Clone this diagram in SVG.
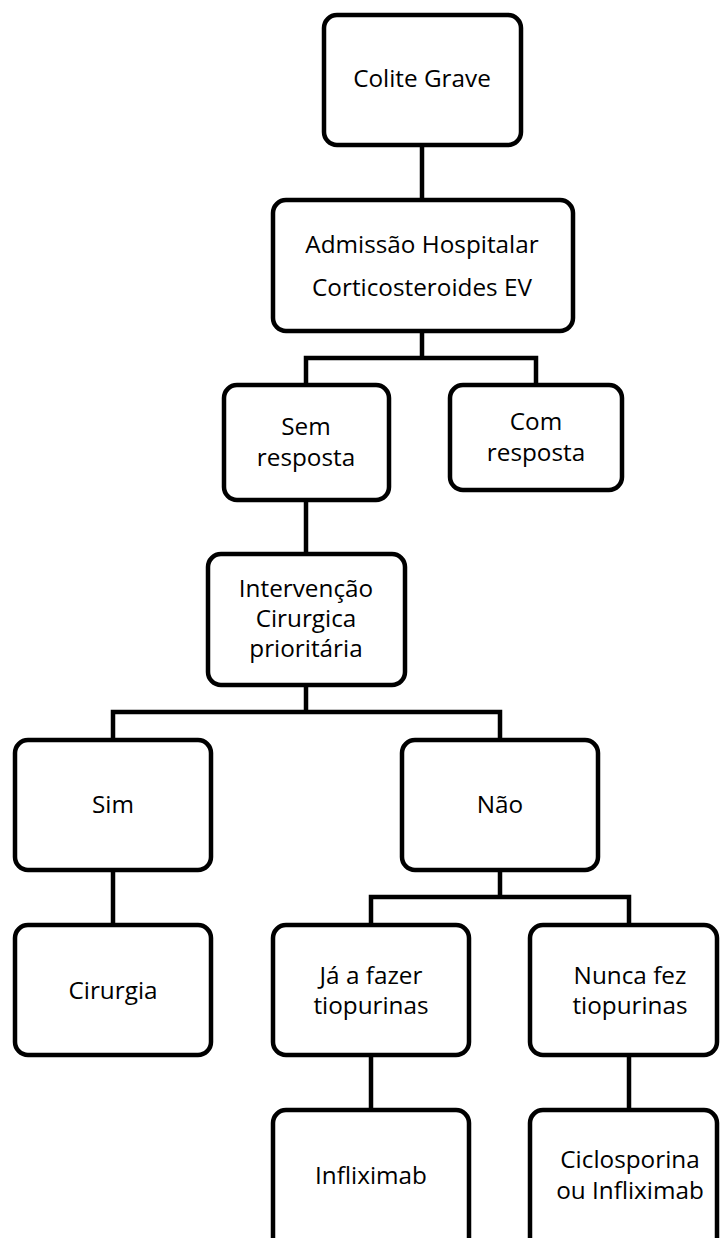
<svg xmlns="http://www.w3.org/2000/svg" width="720" height="1238" viewBox="0 0 720 1238">
<style>
.box{fill:#fff;stroke:#000;stroke-width:4.5}
.lbl{font-family:"Open Sans","Noto Sans",sans-serif;font-size:24.3px;fill:#000;text-anchor:middle}
.conn{fill:none;stroke:#000;stroke-width:4.5;stroke-linejoin:miter}
</style>
<rect width="720" height="1238" fill="#fff"/>
<g id="connectors">
<path class="conn" d="M422 145V200"/>
<path class="conn" d="M422 331V358M306 385V358H536V385"/>
<path class="conn" d="M306 500V554"/>
<path class="conn" d="M306 685V712M113 740V712H500V740"/>
<path class="conn" d="M113 870V925"/>
<path class="conn" d="M500 870V897M371 925V897H629V925"/>
<path class="conn" d="M371 1055V1110"/>
<path class="conn" d="M629 1055V1110"/>
</g>
<g id="n1"><rect class="box" x="324" y="15" width="197" height="130" rx="13"/><text class="lbl" x="422" y="87">Colite Grave</text></g>
<g id="n2"><rect class="box" x="273" y="200" width="300" height="131" rx="13"/><text class="lbl" x="422" y="253">Admissão Hospitalar</text><text class="lbl" x="422" y="296">Corticosteroides EV</text></g>
<g id="n3"><rect class="box" x="224" y="385" width="165" height="115" rx="13"/><text class="lbl" x="306" y="435">Sem</text><text class="lbl" x="306" y="466">resposta</text></g>
<g id="n4"><rect class="box" x="450" y="385" width="172" height="105" rx="13"/><text class="lbl" x="536" y="430">Com</text><text class="lbl" x="536" y="461">resposta</text></g>
<g id="n5"><rect class="box" x="208" y="554" width="197" height="131" rx="13"/><text class="lbl" x="306" y="597">Intervenção</text><text class="lbl" x="306" y="627">Cirurgica</text><text class="lbl" x="306" y="657">prioritária</text></g>
<g id="n6"><rect class="box" x="15" y="740" width="196" height="130" rx="13"/><text class="lbl" x="113" y="813">Sim</text></g>
<g id="n7"><rect class="box" x="402" y="740" width="196" height="130" rx="13"/><text class="lbl" x="500" y="813">Não</text></g>
<g id="n8"><rect class="box" x="15" y="925" width="196" height="130" rx="13"/><text class="lbl" x="113" y="999">Cirurgia</text></g>
<g id="n9"><rect class="box" x="273" y="925" width="196" height="130" rx="13"/><text class="lbl" x="371" y="984">Já a fazer</text><text class="lbl" x="371" y="1014">tiopurinas</text></g>
<g id="n10"><rect class="box" x="530" y="925" width="187" height="130" rx="13"/><text class="lbl" x="630" y="984">Nunca fez</text><text class="lbl" x="630" y="1014">tiopurinas</text></g>
<g id="n11"><rect class="box" x="273" y="1110" width="196" height="145" rx="13"/><text class="lbl" x="371" y="1184">Infliximab</text></g>
<g id="n12"><rect class="box" x="530" y="1110" width="187" height="145" rx="13"/><text class="lbl" x="630" y="1168">Ciclosporina</text><text class="lbl" x="630" y="1199">ou Infliximab</text></g>
</svg>
